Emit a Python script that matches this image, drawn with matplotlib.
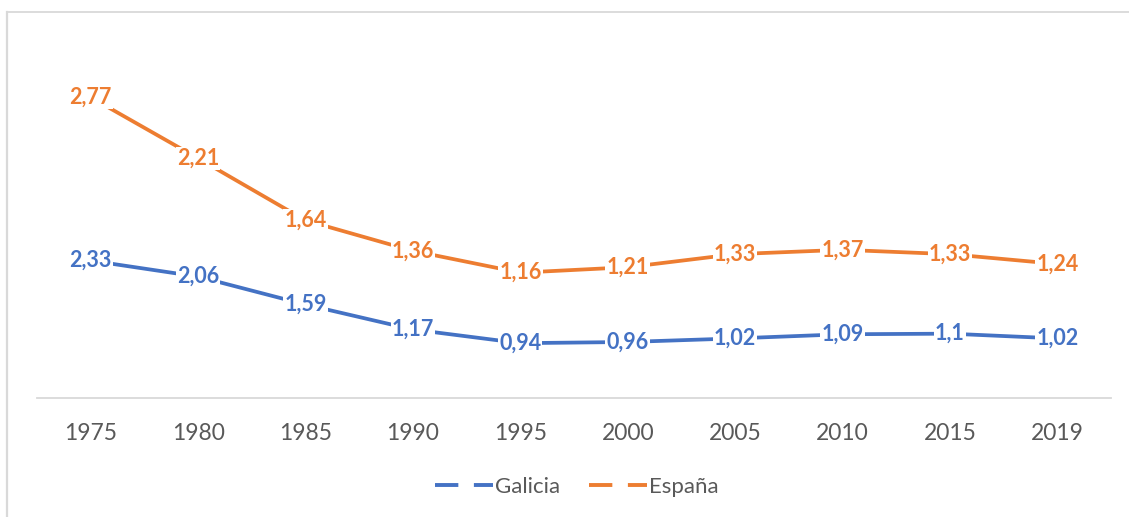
import matplotlib.pyplot as plt
from matplotlib.lines import Line2D
import numpy as np

# Data
years = ["1975", "1980", "1985", "1990", "1995", "2000", "2005", "2010", "2015", "2019"]
galicia = [2.33, 2.06, 1.59, 1.17, 0.94, 0.96, 1.02, 1.09, 1.1, 1.02]
espana = [2.77, 2.21, 1.64, 1.36, 1.16, 1.21, 1.33, 1.37, 1.33, 1.24]

blue = "#4472C4"
orange = "#ED7D31"
grey_txt = "#595959"

plt.rcParams['font.family'] = ['Lato', 'DejaVu Sans']

fig = plt.figure(figsize=(11.29, 5.17), dpi=100)
ax = fig.add_axes([37 / 1129, 119 / 517, 1074 / 1129, 383 / 517])
ax2 = ax.twinx()

x = np.arange(len(years))


def fmt(v):
    return f"{v:g}".replace(".", ",")


# Galicia on primary axis, España on the secondary one
ax.plot(x, galicia, color=blue, lw=2.7, solid_capstyle="round", zorder=2)
for xi, v in zip(x, galicia):
    ax.text(xi, v, fmt(v), color=blue, fontsize=15.5, fontweight="bold",
            ha="center", va="center", zorder=3,
            bbox=dict(facecolor="white", edgecolor="none", pad=0.8))

ax2.plot(x, espana, color=orange, lw=2.7, solid_capstyle="round", zorder=2)
for xi, v in zip(x, espana):
    ax2.text(xi, v, fmt(v), color=orange, fontsize=15.5, fontweight="bold",
             ha="center", va="center", zorder=3,
             bbox=dict(facecolor="white", edgecolor="none", pad=0.8))

ax.set_xlim(-0.5, len(years) - 0.5)
ax.set_ylim(1 / 59.7, 386 / 59.7)
ax2.set_ylim(1 / 110.6, 390 / 110.6)

ax.set_xticks(x)
ax.set_xticklabels(years, fontsize=16.5, color=grey_txt)
ax.tick_params(axis="x", length=0, pad=18)
ax.set_yticks([])
ax2.set_yticks([])

for a in (ax, ax2):
    for side in ("top", "right", "left", "bottom"):
        a.spines[side].set_visible(False)
ax.spines["bottom"].set_visible(True)
ax.spines["bottom"].set_color("#D9D9D9")
ax.spines["bottom"].set_linewidth(1.3)

# chart frame (top and left edges visible)
fig.add_artist(Line2D([7 / 1129, 7 / 1129], [0, 1 - 12 / 517], color="#D9D9D9", lw=1.6,
                      transform=fig.transFigure))
fig.add_artist(Line2D([7 / 1129, 1], [1 - 12 / 517, 1 - 12 / 517], color="#D9D9D9", lw=1.3,
                      transform=fig.transFigure))

handles = [Line2D([], [], color=blue, lw=2.8, dashes=(6, 4)),
           Line2D([], [], color=orange, lw=2.8, dashes=(6, 4))]
fig.legend(handles, ["Galicia", "España"], loc="center", ncol=2,
           bbox_to_anchor=(577 / 1129, 1 - 487 / 517), frameon=False,
           fontsize=16, labelcolor=grey_txt, handlelength=2.6,
           handletextpad=0.1, columnspacing=1.3)

fig.savefig("out.png", dpi=100)
